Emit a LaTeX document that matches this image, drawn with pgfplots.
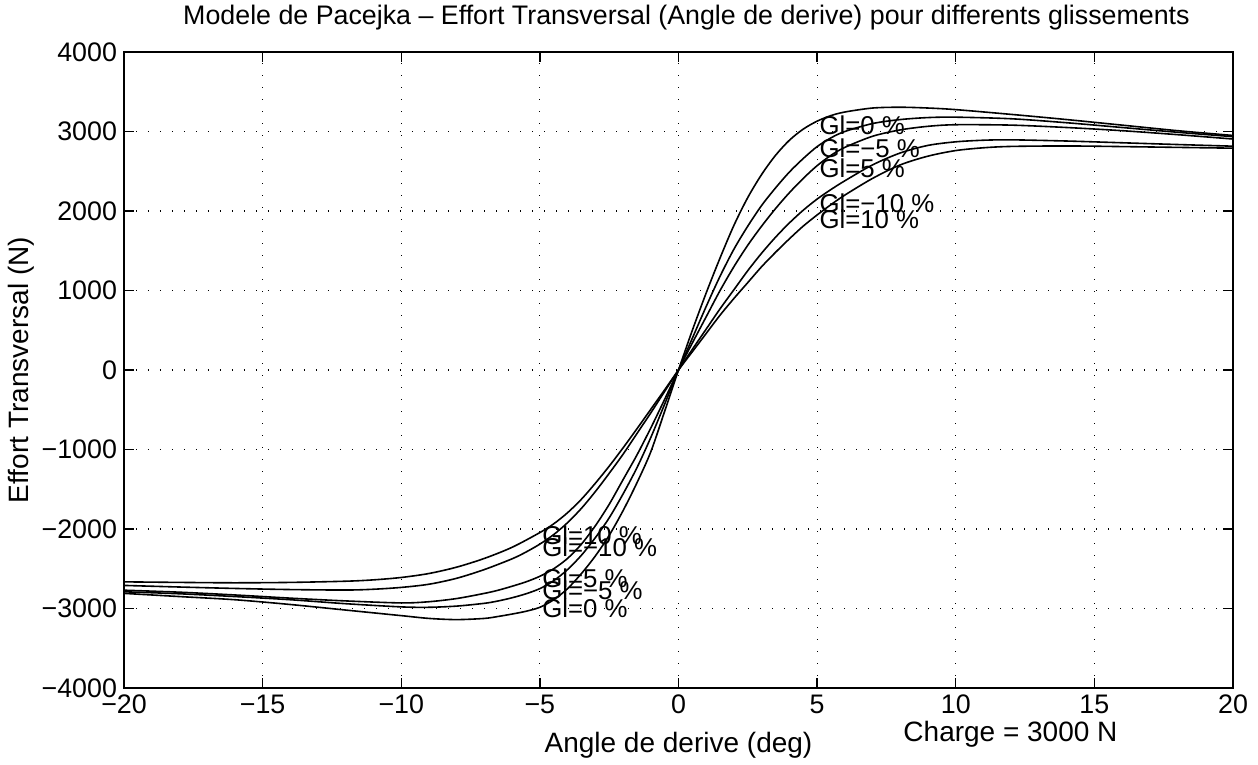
\documentclass[border=0pt]{standalone}
\usepackage{fontspec}
\setmainfont{Liberation Sans}
\usepackage{pgfplots}
\pgfplotsset{compat=1.18}
\begin{document}
\begin{tikzpicture}[font=\fontsize{13.4}{15}\selectfont, curvelab/.style={anchor=west, inner sep=1pt, font=\fontsize{12.9}{14}\selectfont}]
\begin{axis}[
  scale only axis, width=554.5pt, height=318pt,
  xmin=-20, xmax=20, ymin=-4000, ymax=4000,
  xtick={-20,-15,...,20}, ytick={-4000,-3000,...,4000},
  xticklabels={−20,−15,−10,−5,0,5,10,15,20},
  yticklabels={−4000,−3000,−2000,−1000,0,1000,2000,3000,4000},
  grid=major,
  grid style={black, line width=0.55pt, dash pattern=on 0.6pt off 5.4pt},
  axis line style={black, line width=0.9pt},
  tick style={black, line width=0.7pt}, major tick length=5pt,
  tick align=inside,
  title={Modele de Pacejka -- Effort Transversal (Angle de derive) pour differents glissements},
  title style={at={(axis description cs:0.5,1.0346)}, anchor=center, inner sep=0pt, xshift=4pt},
  xlabel={Angle de derive (deg)},
  xlabel style={at={(axis description cs:0.5,-0.0896)}, anchor=center, inner sep=0pt, font=\fontsize{14}{16}\selectfont},
  ylabel={Effort Transversal (N)},
  ylabel style={at={(axis description cs:-0.0925,0.5)}, anchor=center, inner sep=0pt, font=\fontsize{14}{16}\selectfont},
  clip=false,
]
% Gl=0 %
\addplot[black, line width=0.8pt, smooth] coordinates {(-20,-2810) (-18,-2850) (-16,-2890) (-14,-2950) (-12,-3020) (-10,-3090) (-9,-3125) (-8,-3140) (-7,-3125) (-6.5,-3100) (-6,-3070) (-5.5,-3035) (-5,-2985) (-4.5,-2890) (-4,-2750) (-3.5,-2560) (-3,-2340) (-2.5,-2080) (-2,-1770) (-1.5,-1420) (-1,-1030) (-0.5,-520) (0,0) (0.5,500) (1,970) (1.5,1410) (2,1820) (2.5,2170) (3,2460) (3.5,2700) (4,2890) (4.5,3030) (5,3130) (5.5,3200) (6,3245) (7,3295) (8,3305) (9,3295) (10,3275) (12,3215) (14,3150) (16,3080) (18,3010) (20,2950)};
% Gl=-5 %
\addplot[black, line width=0.8pt, smooth] coordinates {(-20,-2790) (-18,-2815) (-16,-2850) (-14,-2890) (-12,-2940) (-10,-2980) (-9,-2985) (-8,-2970) (-7,-2935) (-6.5,-2905) (-6,-2865) (-5.5,-2815) (-5,-2750) (-4.5,-2650) (-4,-2510) (-3.5,-2330) (-3,-2110) (-2.5,-1860) (-2,-1560) (-1.5,-1230) (-1,-850) (-0.5,-430) (0,0) (0.5,400) (1,800) (1.5,1180) (2,1520) (2.5,1810) (3,2070) (3.5,2290) (4,2490) (4.5,2660) (5,2810) (5.5,2920) (6,3000) (7,3100) (8,3150) (9,3175) (10,3180) (12,3160) (14,3110) (16,3050) (18,2990) (20,2935)};
% Gl=5 %
\addplot[black, line width=0.8pt, smooth] coordinates {(-20,-2770) (-18,-2795) (-16,-2830) (-14,-2870) (-12,-2905) (-10,-2930) (-9,-2915) (-8,-2875) (-7,-2810) (-6.5,-2770) (-6,-2720) (-5.5,-2665) (-5,-2595) (-4.5,-2500) (-4,-2370) (-3.5,-2190) (-3,-1960) (-2.5,-1690) (-2,-1380) (-1.5,-1070) (-1,-730) (-0.5,-370) (0,0) (0.5,340) (1,670) (1.5,1000) (2,1300) (2.5,1570) (3,1810) (3.5,2030) (4,2230) (4.5,2410) (5,2570) (5.5,2700) (6,2800) (7,2940) (8,3020) (9,3065) (10,3085) (12,3080) (14,3050) (16,3010) (18,2960) (20,2905)};
% Gl=-10 %
\addplot[black, line width=0.8pt, smooth] coordinates {(-20,-2710) (-18,-2730) (-16,-2748) (-14,-2762) (-12,-2768) (-11,-2758) (-10,-2735) (-9,-2695) (-8,-2620) (-7,-2510) (-6,-2375) (-5.5,-2290) (-5,-2190) (-4.5,-2070) (-4,-1920) (-3.5,-1740) (-3,-1530) (-2.5,-1300) (-2,-1060) (-1.5,-800) (-1,-540) (-0.5,-270) (0,0) (0.5,260) (1,515) (1.5,770) (2,1010) (2.5,1250) (3,1470) (3.5,1670) (4,1850) (4.5,2010) (5,2150) (5.5,2270) (6,2380) (7,2580) (8,2730) (9,2825) (10,2870) (11,2890) (12,2895) (14,2880) (16,2858) (18,2836) (20,2815)};
% Gl=10 %
\addplot[black, line width=0.8pt, smooth] coordinates {(-20,-2665) (-18,-2672) (-16,-2677) (-14,-2672) (-12,-2657) (-11,-2640) (-10,-2610) (-9,-2560) (-8,-2480) (-7,-2370) (-6,-2230) (-5,-2045) (-4.5,-1935) (-4,-1795) (-3.5,-1625) (-3,-1425) (-2.5,-1210) (-2,-980) (-1.5,-740) (-1,-495) (-0.5,-250) (0,0) (0.5,230) (1,460) (1.5,690) (2,900) (2.5,1100) (3,1300) (3.5,1480) (4,1650) (4.5,1810) (5,1950) (5.5,2080) (6,2200) (7,2410) (8,2580) (9,2690) (10,2760) (11,2795) (12,2812) (14,2818) (16,2810) (18,2800) (20,2790)};
% curve labels
\node[curvelab] at (axis cs:5,3075) {Gl=0 \%};
\node[curvelab] at (axis cs:5,2783) {Gl=−5 \%};
\node[curvelab] at (axis cs:5,2540) {Gl=5 \%};
\node[curvelab] at (axis cs:5,2100) {Gl=−10 \%};
\node[curvelab] at (axis cs:5,1895) {Gl=10 \%};
\node[curvelab] at (axis cs:-5,-2083) {Gl=10 \%};
\node[curvelab] at (axis cs:-5,-2230) {Gl=−10 \%};
\node[curvelab] at (axis cs:-5,-2625) {Gl=5 \%};
\node[curvelab] at (axis cs:-5,-2770) {Gl=−5 \%};
\node[curvelab] at (axis cs:-5,-3000) {Gl=0 \%};
\node[anchor=west, inner sep=0pt, font=\fontsize{14}{16}\selectfont] at (axis cs:8.1,-4580) {Charge = 3000 N};
\coordinate (SW) at (rel axis cs:0,0);
\coordinate (NE) at (rel axis cs:1,1);
\end{axis}
\pgfresetboundingbox
\path[use as bounding box] ([xshift=-62pt,yshift=-38.5pt]SW) rectangle ([xshift=12.5pt,yshift=26pt]NE);
\end{tikzpicture}
\end{document}
